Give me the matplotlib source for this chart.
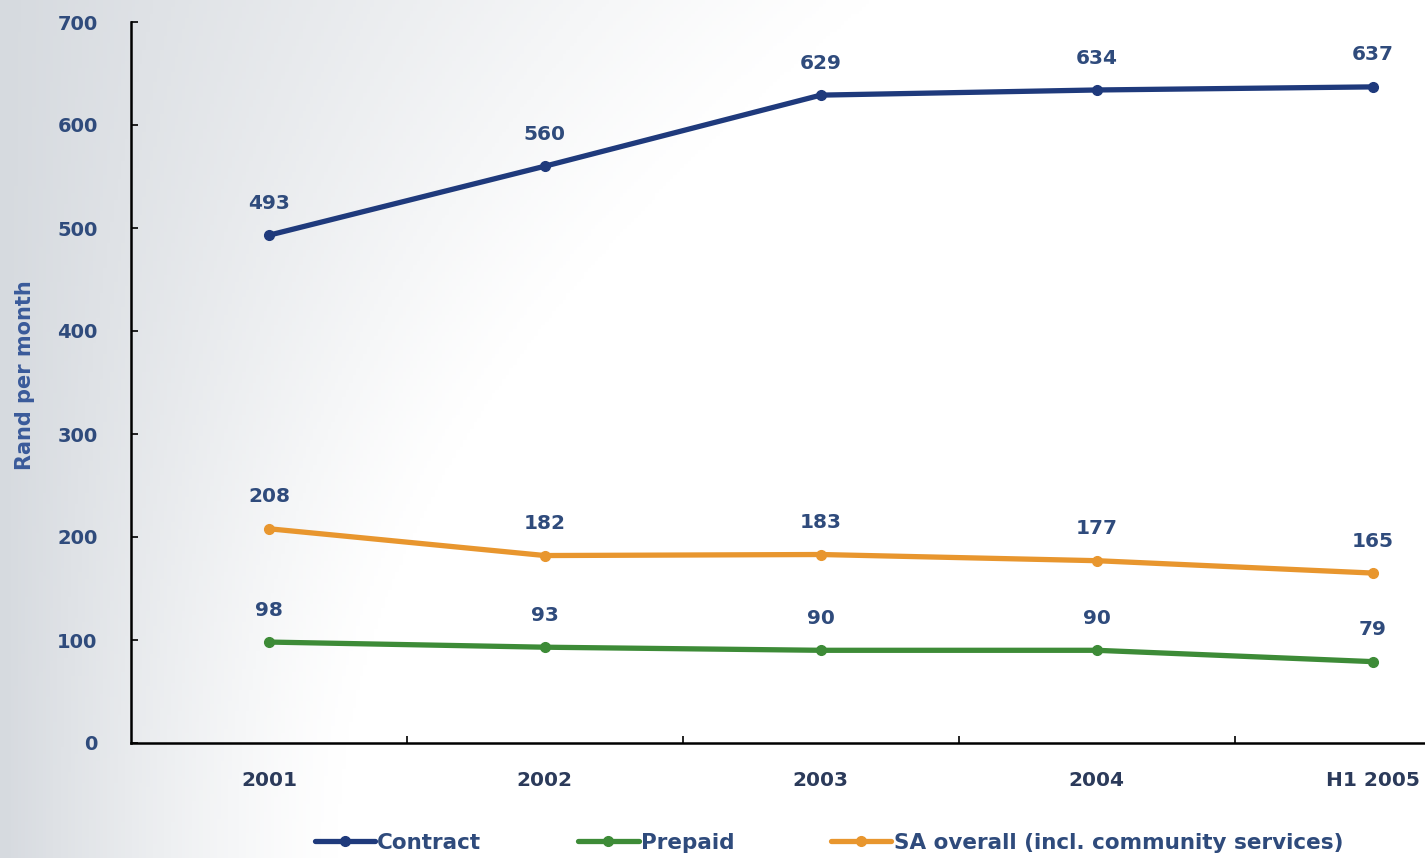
import numpy as np
import matplotlib.pyplot as plt
from matplotlib.colors import LinearSegmentedColormap

# Average revenue per user, Rand per month
periods = ['2001', '2002', '2003', '2004', 'H1 2005']
contract = [493, 560, 629, 634, 637]
prepaid = [98, 93, 90, 90, 79]
sa_overall = [208, 182, 183, 177, 165]

series_names = ['Contract', 'Prepaid', 'SA overall (incl. community services)']
series_colors = ['#1f3a7c', '#3d8b37', '#e8962e']

label_color = '#2f4b7c'
tick_color = '#2b3a5a'

fig = plt.figure(figsize=(14.25, 8.58), dpi=100)

# soft grey-to-white background wash, heavier towards the top left
bg = fig.add_axes([0, 0, 1, 1], zorder=-10)
xx = np.linspace(0, 1, 400)
yy = np.linspace(0, 1, 240)
X, Y = np.meshgrid(xx, yy)
reach = 0.24 + 0.38 * Y ** 2
shade = np.clip(1 - X / reach, 0, 1) ** 1.3
cmap = LinearSegmentedColormap.from_list('wash', ['#ffffff', '#d6dadf'])
bg.imshow(shade, cmap=cmap, aspect='auto', extent=[0, 1, 0, 1], vmin=0, vmax=1,
          origin='lower')
bg.axis('off')

ax = fig.add_axes([131 / 1425, 1 - 743 / 858, 1 - 131 / 1425, (743 - 22) / 858])
ax.patch.set_alpha(0)

x = np.arange(len(periods))
for vals, name, col in zip([contract, prepaid, sa_overall], series_names, series_colors):
    ax.plot(x, vals, color=col, lw=3.8, marker='o', ms=7, label=name,
            solid_capstyle='round')
    for xi, v in zip(x, vals):
        ax.annotate(str(v), (xi, v), xytext=(0, 23), textcoords='offset points',
                    ha='center', va='center', fontsize=14.5, fontweight='bold',
                    color=label_color)

ax.set_ylim(0, 700)
ax.set_xlim(-0.5, 4.19)
ax.set_yticks(range(0, 701, 100))
ax.set_xticks(x)
ax.set_xticklabels(periods)
ax.set_xticks(np.arange(0.5, 4, 1), minor=True)
ax.tick_params(axis='x', which='major', length=0, pad=20)
ax.tick_params(axis='x', which='minor', length=5, direction='in', width=1.2)
ax.tick_params(axis='y', length=5, direction='in', width=1.2, pad=24)
for lab in ax.get_xticklabels():
    lab.set_fontsize(14.5)
    lab.set_fontweight('bold')
    lab.set_color(tick_color)
for lab in ax.get_yticklabels():
    lab.set_fontsize(14)
    lab.set_fontweight('bold')
    lab.set_color(label_color)

for side in ['top', 'right']:
    ax.spines[side].set_visible(False)
ax.spines['left'].set_linewidth(1.8)
ax.spines['bottom'].set_linewidth(1.8)

fig.text(25 / 1425, 1 - 375 / 858, 'Rand per month', rotation=90, ha='center',
         va='center', fontsize=15, fontweight='bold', color='#3a5a9a')

handles, labels = ax.get_legend_handles_labels()
leg = fig.legend(handles, labels, loc='center', bbox_to_anchor=(829 / 1425, 1 - 843 / 858),
                 ncol=3, frameon=False, handlelength=2.8, handletextpad=0.1,
                 columnspacing=4.5, prop={'size': 15.5, 'weight': 'bold'})
for t in leg.get_texts():
    t.set_color(label_color)

fig.savefig('out.png', dpi=100)
